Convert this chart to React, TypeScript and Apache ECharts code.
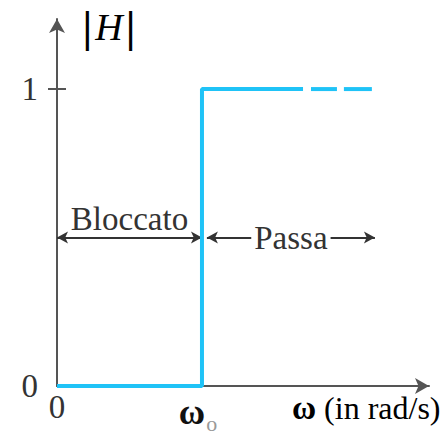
import React, { useEffect, useRef } from "react";
import * as echarts from "echarts";

// ---- data ----
const xTickValues = [0, 1];
const xTickLabels = ["0", "ω|o"];
const yTickValues = [0, 1];
const yTickLabels = ["0", "1"];
const yTickMarks = [1];
const responseSolid = [
  [0, 0],
  [1, 0],
  [1, 1],
  [1.697, 1],
];
const responseDash1 = [
  [1.752, 1],
  [1.931, 1],
];
const responseDash2 = [
  [1.979, 1],
  [2.172, 1],
];
const bandLevel = 0.5;
const stopBand = [0, 1];
const passBand = [1.034, 2.193];
const bandLabels = ["Bloccato", "Passa"];
const xMax = 2.566;
const yMax = 1.236;
const yTitle = "H";
const xTitle = "(in rad/s)";

const SERIF = "'Liberation Serif', 'Times New Roman', serif";
const TEXT = "#333";
const AXIS = "#555";
const BLUE = "#1fc3f7";

export default function App() {
  const ref = useRef<HTMLDivElement>(null);
  useEffect(() => {
    if (!ref.current) return;
    const chart = echarts.init(ref.current, undefined, { renderer: "svg" });
    const blueLine = { color: BLUE, width: 4 };
    chart.setOption({
      animation: false,
      backgroundColor: "#fff",
      grid: { left: 57, right: 17, top: 19, bottom: 46, containLabel: false },
      xAxis: {
        type: "value",
        min: 0,
        max: xMax,
        axisLine: {
          show: true,
          onZero: false,
          symbol: ["none", "arrow"],
          symbolSize: [12, 14],
          lineStyle: { color: AXIS, width: 2 },
        },
        axisTick: { show: false },
        splitLine: { show: false },
        axisLabel: {
          customValues: xTickValues,
          margin: 4,
          formatter: (v: number) => {
            const lab = xTickLabels[xTickValues.indexOf(v)] ?? "";
            if (lab.includes("|")) {
              const [a, b] = lab.split("|");
              return `{w|${a}}{s|${b}}`;
            }
            return `{n|${lab}}`;
          },
          rich: {
            n: { fontFamily: SERIF, fontSize: 33, color: TEXT },
            w: { fontFamily: SERIF, fontSize: 36, fontWeight: "bold", color: "#111" },
            s: {
              fontFamily: SERIF,
              fontSize: 22,
              color: "#999",
              padding: [22, 8, 0, 1],
            },
          },
        },
      },
      yAxis: [
        {
          type: "value",
          min: 0,
          max: yMax,
          axisLine: {
            show: true,
            onZero: false,
            symbol: ["none", "arrow"],
            symbolSize: [12, 14],
            lineStyle: { color: AXIS, width: 2 },
          },
          axisTick: {
            show: true,
            customValues: yTickMarks,
            length: 9,
            lineStyle: { color: AXIS, width: 2 },
          },
          splitLine: { show: false },
          axisLabel: {
            customValues: yTickValues,
            margin: 19,
            fontFamily: SERIF,
            fontSize: 33,
            color: TEXT,
            formatter: (v: number) => yTickLabels[yTickValues.indexOf(v)] ?? "",
          },
        },
        {
          type: "value",
          min: 0,
          max: yMax,
          position: "left",
          axisLine: { show: false },
          axisTick: {
            show: true,
            inside: true,
            customValues: yTickMarks,
            length: 9,
            lineStyle: { color: AXIS, width: 2 },
          },
          splitLine: { show: false },
          axisLabel: { show: false },
        },
      ],
      series: [
        {
          type: "line",
          data: responseSolid,
          showSymbol: false,
          symbol: "none",
          lineStyle: blueLine,
          z: 5,
          markLine: {
            silent: true,
            symbol: ["arrow", "arrow"],
            symbolSize: [9, 11],
            lineStyle: { color: TEXT, width: 2, type: "solid" },
            data: [
              [
                {
                  coord: [stopBand[0], bandLevel],
                  label: {
                    show: true,
                    position: "insideMiddleTop",
                    distance: 2,
                    formatter: bandLabels[0],
                    fontFamily: SERIF,
                    fontSize: 33,
                    color: TEXT,
                  },
                },
                { coord: [stopBand[1], bandLevel] },
              ],
              [
                {
                  coord: [passBand[0], bandLevel],
                  label: {
                    show: true,
                    position: "middle",
                    distance: -17,
                    formatter: bandLabels[1],
                    fontFamily: SERIF,
                    fontSize: 33,
                    color: TEXT,
                    backgroundColor: "#fff",
                    padding: [0, 3],
                  },
                },
                { coord: [passBand[1], bandLevel] },
              ],
            ],
          },
        },
        {
          type: "line",
          data: responseDash1,
          showSymbol: false,
          symbol: "none",
          lineStyle: blueLine,
          z: 5,
        },
        {
          type: "line",
          data: responseDash2,
          showSymbol: false,
          symbol: "none",
          lineStyle: blueLine,
          z: 5,
        },
      ],
      graphic: [
        {
          type: "text",
          x: 109,
          y: 27,
          style: {
            text: `{b||}{h|${yTitle}}{b||}`,
            align: "center",
            verticalAlign: "middle",
            rich: {
              b: { fontFamily: SERIF, fontSize: 44, fontWeight: "bold", color: "#000" },
              h: { fontFamily: SERIF, fontSize: 38, fontStyle: "italic", color: TEXT, padding: [0, 3] },
            },
          },
        },
        {
          type: "text",
          x: 292,
          y: 408,
          style: {
            text: `{w|ω}{t| ${xTitle}}`,
            align: "left",
            verticalAlign: "middle",
            rich: {
              w: { fontFamily: SERIF, fontSize: 33, fontWeight: "bold", color: "#111" },
              t: { fontFamily: SERIF, fontSize: 32, color: TEXT },
            },
          },
        },
      ],
    });
    return () => chart.dispose();
  }, []);
  return (
    <div
      ref={ref}
      style={{ position: "fixed", left: 0, top: 0, width: 446, height: 434 }}
    />
  );
}
